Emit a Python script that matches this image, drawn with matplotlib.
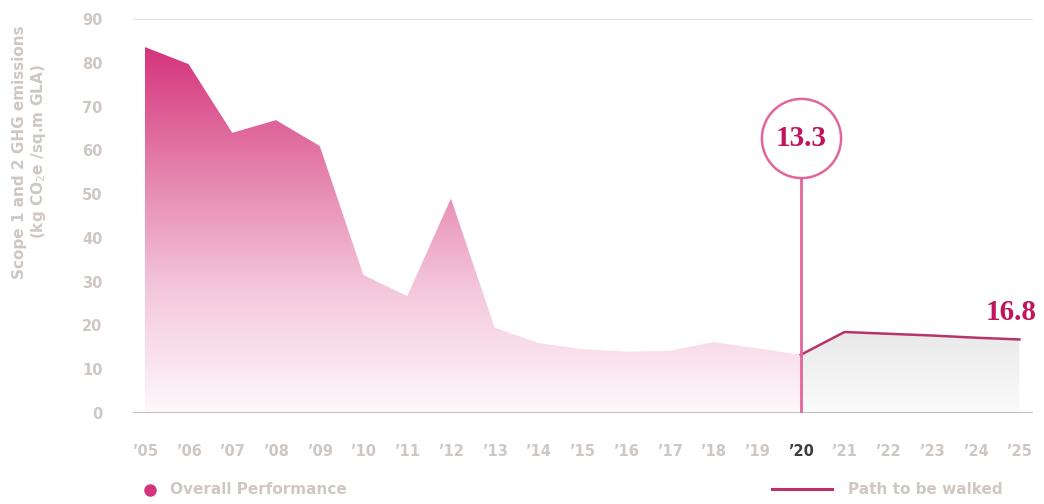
import numpy as np
import matplotlib
matplotlib.use("Agg")
import matplotlib.pyplot as plt
from matplotlib.colors import LinearSegmentedColormap

# ---- data ----
years_hist = [2005, 2006, 2007, 2008, 2009, 2010, 2011, 2012, 2013, 2014,
              2015, 2016, 2017, 2018, 2019, 2020]
values_hist = [83.6, 79.7, 64.0, 66.9, 61.0, 31.5, 26.7, 49.0, 19.5, 16.0,
               14.6, 14.0, 14.2, 16.2, 14.8, 13.3]
years_future = [2020, 2021, 2022, 2023, 2024, 2025]
values_future = [13.3, 18.5, 18.1, 17.7, 17.2, 16.8]
tick_years = list(range(2005, 2026))
tick_labels = ["\u2019%02d" % (y % 100) for y in tick_years]
y_ticks = [0, 10, 20, 30, 40, 50, 60, 70, 80, 90]
highlight_year = 2020
highlight_label = "13.3"
end_label = "16.8"
y_label = "Scope 1 and 2 GHG emissions\n(kg CO$_2$e /sq.m GLA)"
legend_labels = ["Overall Performance", "Path to be walked"]

# ---- style ----
PINK_TOP = "#d5347c"
LINE_PINK = "#b8336a"
CIRCLE_PINK = "#e2669c"
NUM_COLOR = "#c0155a"
GRAY_TEXT = "#cfc7c3"
SERIF = ["Liberation Serif", "DejaVu Serif"]

fig = plt.figure(figsize=(10.44, 5.04), dpi=100)
ax = fig.add_axes([133/1044, 1-413/504, 900/1044, (413-19)/504])
ax.set_xlim(2004.73, 2025.31)
ax.set_ylim(0, 90)

# gradient area for history
cmap = LinearSegmentedColormap.from_list("pg", ["#fef8fb", "#f4c8dc", "#e480ab", PINK_TOP],
                                         N=256)
poly = ax.fill_between(years_hist, values_hist, 0, color="none", lw=0)
grad = np.linspace(0, 1, 256).reshape(-1, 1)
im = ax.imshow(grad, cmap=cmap, origin="lower", aspect="auto",
               extent=[years_hist[0], years_hist[-1], 0, max(values_hist)],
               zorder=1, interpolation="bicubic")
im.set_clip_path(poly.get_paths()[0], transform=ax.transData)

# gradient area for future
cmap2 = LinearSegmentedColormap.from_list("gg", ["#fbfbfb", "#e9e9e9"], N=256)
poly2 = ax.fill_between(years_future, values_future, 0, color="none", lw=0)
im2 = ax.imshow(grad, cmap=cmap2, origin="lower", aspect="auto",
                extent=[years_future[0], years_future[-1], 0, max(values_future)],
                zorder=1, interpolation="bicubic")
im2.set_clip_path(poly2.get_paths()[0], transform=ax.transData)
ax.plot(years_future, values_future, color=LINE_PINK, lw=1.8, zorder=3,
        solid_joinstyle="miter")

# top gridline and baseline
ax.axhline(90, color="#dcdcdc", lw=1.2, zorder=0)
ax.axhline(0, color="#b9b5b3", lw=2, zorder=4)

# highlight vertical line + circle
circle_y = 62.8
ax.plot([highlight_year, highlight_year], [0, circle_y], color=CIRCLE_PINK, lw=2, zorder=5)
ax.plot([highlight_year], [circle_y], marker="o", ms=57, mfc="white", mec=CIRCLE_PINK,
        mew=1.8, zorder=6)
ax.text(highlight_year, circle_y, highlight_label, ha="center", va="center",
        fontsize=21, fontweight="bold", family=SERIF, color=NUM_COLOR, zorder=7)
ax.annotate(end_label, xy=(years_future[-1], values_future[-1]), xytext=(-6, 10),
            textcoords="offset points", ha="center", va="bottom", fontsize=21,
            fontweight="bold", family=SERIF, color=NUM_COLOR)

# ticks
ax.set_xticks(tick_years)
ax.set_xticklabels(tick_labels)
ax.set_yticks(y_ticks)
ax.tick_params(axis="both", length=0, labelsize=10.5, labelcolor=GRAY_TEXT)
ax.tick_params(axis="x", pad=22)
ax.tick_params(axis="y", pad=22)
for lab in ax.get_xticklabels() + ax.get_yticklabels():
    lab.set_fontweight("bold")
for lab, yr in zip(ax.get_xticklabels(), tick_years):
    if yr == highlight_year:
        lab.set_color("#3d3d3d")
for s in ax.spines.values():
    s.set_visible(False)

fig.text(30/1044, 1-152/504, y_label, rotation=90, ha="center", va="center",
         fontsize=11, fontweight="bold", color=GRAY_TEXT, linespacing=1.1)

# legend
fig.lines.append(matplotlib.lines.Line2D([150/1044], [1-490/504], marker="o", ms=8,
                                         color="#d6347e", transform=fig.transFigure))
fig.text(170/1044, 1-490/504, legend_labels[0], ha="left", va="center", fontsize=11,
         fontweight="bold", color=GRAY_TEXT)
fig.lines.append(matplotlib.lines.Line2D([772/1044, 832/1044], [1-489/504, 1-489/504],
                                         color=LINE_PINK, lw=2.2, transform=fig.transFigure))
fig.text(848/1044, 1-490/504, legend_labels[1], ha="left", va="center", fontsize=11,
         fontweight="bold", color=GRAY_TEXT)

fig.savefig("out.png", dpi=100, facecolor="white")
